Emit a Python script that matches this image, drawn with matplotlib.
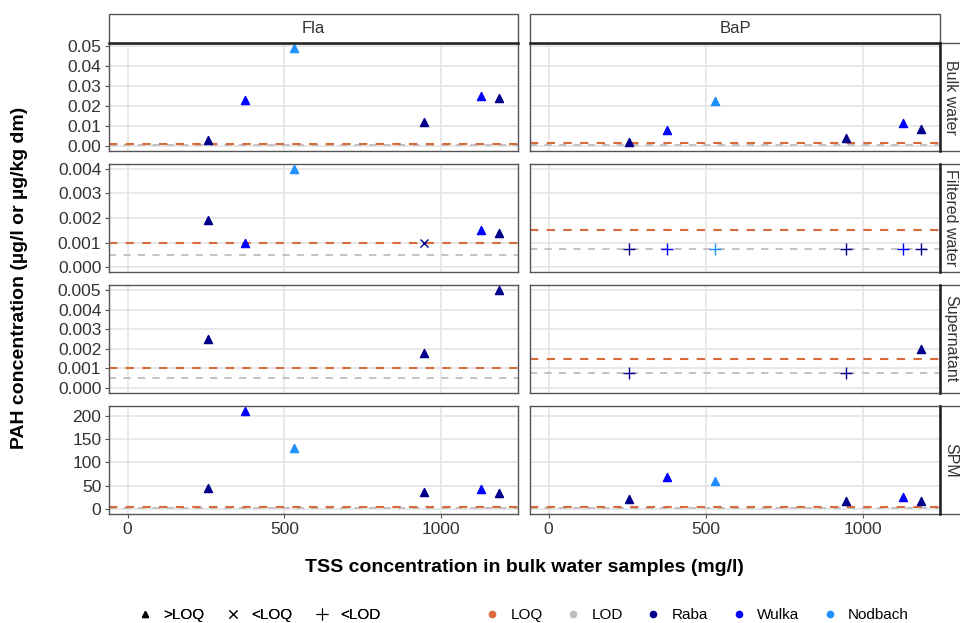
import matplotlib
matplotlib.use("Agg")
import matplotlib.pyplot as plt
from matplotlib.lines import Line2D
from matplotlib.patches import Rectangle

plt.rcParams["font.family"] = ["Liberation Sans", "DejaVu Sans"]

# samples: TSS in bulk water (mg/l) and site
tss = [256, 376, 530, 945, 1127, 1186]
site = ["Raba", "Wulka", "Nodbach", "Raba", "Wulka", "Raba"]

analytes = ["Fla", "BaP"]
matrices = ["Bulk water", "Filtered water", "Supernatant", "SPM"]

fla_bulk = [0.003, 0.023, 0.049, 0.012, 0.025, 0.024]
fla_bulk_flag = [">LOQ", ">LOQ", ">LOQ", ">LOQ", ">LOQ", ">LOQ"]
fla_filtered = [0.0019, 0.0010, 0.0040, 0.0010, 0.0015, 0.0014]
fla_filtered_flag = [">LOQ", ">LOQ", ">LOQ", "<LOQ", ">LOQ", ">LOQ"]
fla_super = [0.0025, None, None, 0.0018, None, 0.0050]
fla_super_flag = [">LOQ", None, None, ">LOQ", None, ">LOQ"]
fla_spm = [45, 210, 130, 37, 42, 35]
fla_spm_flag = [">LOQ", ">LOQ", ">LOQ", ">LOQ", ">LOQ", ">LOQ"]

bap_bulk = [0.0020, 0.0080, 0.0225, 0.0042, 0.0115, 0.0083]
bap_bulk_flag = [">LOQ", ">LOQ", ">LOQ", ">LOQ", ">LOQ", ">LOQ"]
bap_filtered = [0.00075, 0.00075, 0.00075, 0.00075, 0.00075, 0.00075]
bap_filtered_flag = ["<LOD", "<LOD", "<LOD", "<LOD", "<LOD", "<LOD"]
bap_super = [0.00075, None, None, 0.00075, None, 0.0020]
bap_super_flag = ["<LOD", None, None, "<LOD", None, ">LOQ"]
bap_spm = [22, 69, 61, 17, 25, 17]
bap_spm_flag = [">LOQ", ">LOQ", ">LOQ", ">LOQ", ">LOQ", ">LOQ"]

# LOQ / LOD per matrix
fla_loq = [0.001, 0.001, 0.001, 4]
fla_lod = [0.0005, 0.0005, 0.0005, 2]
bap_loq = [0.0015, 0.0015, 0.0015, 4]
bap_lod = [0.00075, 0.00075, 0.00075, 2]

row_ticks = [
    [0, 0.01, 0.02, 0.03, 0.04, 0.05],
    [0, 0.001, 0.002, 0.003, 0.004],
    [0, 0.001, 0.002, 0.003, 0.004, 0.005],
    [0, 50, 100, 150, 200],
]
row_fmt = ["{:.2f}", "{:.3f}", "{:.3f}", "{:.0f}"]
x_ticks = [0, 500, 1000]

values = {
    "Fla": [(fla_bulk, fla_bulk_flag), (fla_filtered, fla_filtered_flag),
            (fla_super, fla_super_flag), (fla_spm, fla_spm_flag)],
    "BaP": [(bap_bulk, bap_bulk_flag), (bap_filtered, bap_filtered_flag),
            (bap_super, bap_super_flag), (bap_spm, bap_spm_flag)],
}
limits = {"Fla": (fla_loq, fla_lod), "BaP": (bap_loq, bap_lod)}

site_colors = {"Raba": "#00008B", "Wulka": "#0000FF", "Nodbach": "#1E90FF"}
loq_color = "#D96A3B"
lod_color = "#BEBEBE"
flag_marker = {">LOQ": "^", "<LOQ": "x", "<LOD": "+"}
flag_size = {">LOQ": 34, "<LOQ": 34, "<LOD": 70}

W, H = 960, 623
fig = plt.figure(figsize=(W / 100, H / 100), dpi=100)

col_px = [(109, 518), (530, 940)]
row_px = [(43, 151), (164, 272), (285, 393), (406, 514)]

x_hi = max(tss)
x_lim = (-0.05 * x_hi, x_hi * 1.05)
grid_c = "#E6E6E6"
border_c = "#555555"
text_c = "#333333"

for r, matrix in enumerate(matrices):
    row_vals = []
    for a in analytes:
        row_vals += [v for v in values[a][r][0] if v is not None]
        row_vals += [limits[a][0][r], limits[a][1][r]]
    y_hi = max(row_vals)
    y_lim = (-0.05 * y_hi, y_hi * 1.05)
    y0, y1 = row_px[r]
    for c, a in enumerate(analytes):
        x0, x1 = col_px[c]
        ax = fig.add_axes([x0 / W, 1 - y1 / H, (x1 - x0) / W, (y1 - y0) / H])
        ax.set_xlim(x_lim)
        ax.set_ylim(y_lim)
        ax.set_xticks(x_ticks)
        ax.set_yticks(row_ticks[r])
        ax.grid(True, color=grid_c, linewidth=1.3, zorder=0)
        ax.set_axisbelow(True)
        for sp in ax.spines.values():
            sp.set_color(border_c)
            sp.set_linewidth(1.0)
        ax.tick_params(length=3, width=0.8, color=border_c, labelsize=12.5,
                       labelcolor=text_c, pad=2.5)
        if c == 0:
            ax.set_yticklabels([row_fmt[r].format(t) for t in row_ticks[r]])
        else:
            ax.tick_params(axis="y", left=False, labelleft=False)
        if r < 3:
            ax.tick_params(axis="x", bottom=False, labelbottom=False)
        else:
            ax.set_xticklabels([str(t) for t in x_ticks])

        loq, lod = limits[a][0][r], limits[a][1][r]
        ax.axhline(lod, color=lod_color, linestyle=(0, (4, 4)), linewidth=1.3, zorder=2)
        ax.axhline(loq, color=loq_color, linestyle=(0, (4, 4)), linewidth=1.5, zorder=2)

        vals, flags = values[a][r]
        for xv, yv, fl, s in zip(tss, vals, flags, site):
            if yv is None:
                continue
            ax.scatter(xv, yv, marker=flag_marker[fl], s=flag_size[fl],
                       color=site_colors[s], linewidths=1.0, zorder=3)

        if r == 0:
            fig.add_artist(Rectangle((x0 / W, 1 - y0 / H), (x1 - x0) / W, 29 / H,
                                     transform=fig.transFigure, facecolor="white",
                                     edgecolor=border_c, linewidth=1.0))
            fig.add_artist(Line2D([x0 / W, x1 / W], [1 - y0 / H] * 2,
                                  transform=fig.transFigure, color="#222222", linewidth=1.8))
            fig.text((x0 + x1) / 2 / W, 1 - (y0 - 14.5) / H, a, ha="center",
                     va="center", fontsize=12, color=text_c)
        if c == 1:
            fig.add_artist(Rectangle((x1 / W, 1 - y1 / H), 30 / W, (y1 - y0) / H,
                                     transform=fig.transFigure, facecolor="white",
                                     edgecolor=border_c, linewidth=1.0))
            fig.add_artist(Line2D([x1 / W] * 2, [1 - y1 / H, 1 - y0 / H],
                                  transform=fig.transFigure, color="#222222", linewidth=1.8))
            fig.text((x1 + 10.5) / W, 1 - (y0 + y1) / 2 / H, matrix, ha="center",
                     va="center", rotation=-90, fontsize=11.5, color=text_c)

fig.text(524 / W, 1 - 568 / H, "TSS concentration in bulk water samples (mg/l)",
         ha="center", va="center", fontsize=14, fontweight="bold")
fig.text(20 / W, 1 - 278 / H, "PAH concentration (µg/l or µg/kg dm)",
         ha="center", va="center", rotation=90, fontsize=14, fontweight="bold")

shape_handles = [
    Line2D([], [], linestyle="none", marker="^", color="black", markersize=5),
    Line2D([], [], linestyle="none", marker="x", color="black", markersize=6, markeredgewidth=0.8),
    Line2D([], [], linestyle="none", marker="+", color="black", markersize=8, markeredgewidth=0.8),
]
shape_labels = [">LOQ", "<LOQ", "<LOD"]
color_handles = [
    Line2D([], [], linestyle="none", marker="o", color=col, markersize=4.5)
    for col in [loq_color, lod_color, site_colors["Raba"], site_colors["Wulka"], site_colors["Nodbach"]]
]
color_labels = ["LOQ", "LOD", "Raba", "Wulka", "Nodbach"]

leg1 = fig.legend(shape_handles, shape_labels, loc="center", bbox_to_anchor=(258 / W, 1 - 615 / H),
                  ncol=3, frameon=False, fontsize=11, handletextpad=0.6, columnspacing=1.3,
                  handlelength=1.2)
fig.add_artist(leg1)
fig.legend(color_handles, color_labels, loc="center", bbox_to_anchor=(696 / W, 1 - 615 / H),
           ncol=5, frameon=False, fontsize=11, handletextpad=0.6, columnspacing=1.4,
           handlelength=1.2)

fig.savefig("out.png", dpi=100)
